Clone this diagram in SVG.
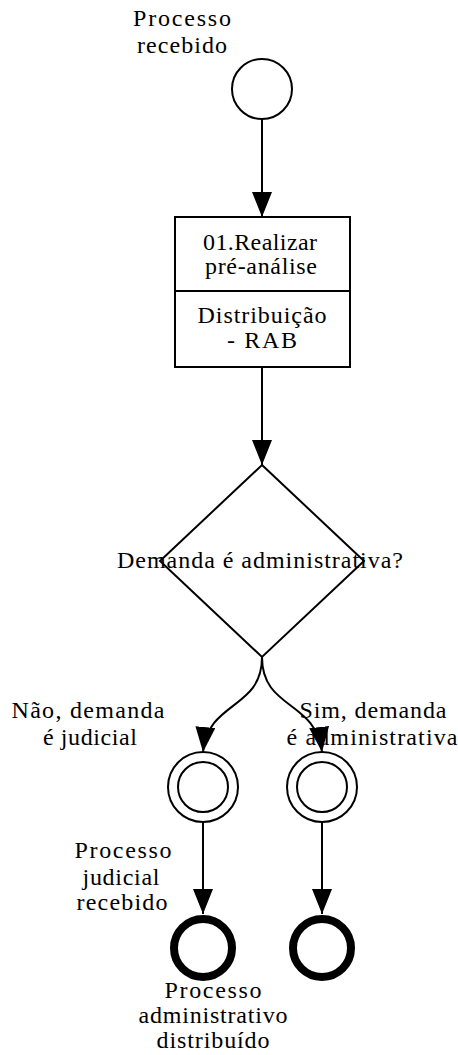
<svg xmlns="http://www.w3.org/2000/svg" width="458" height="1055" viewBox="0 0 458 1055">
<style>
.t{font-family:"Liberation Serif","Times New Roman",serif;font-size:24px;fill:#000;text-anchor:middle}
.s{fill:#fff;stroke:#000;stroke-width:2}
.e{fill:#fff;stroke:#000;stroke-width:8}
.c{fill:none;stroke:#000;stroke-width:2}
</style>
<defs>
<marker id="ah" markerUnits="userSpaceOnUse" viewBox="0 0 25 20" markerWidth="25" markerHeight="20" refX="25" refY="10" orient="auto">
<path d="M0,0 L25,10 L0,20 z" fill="#000"/>
</marker>
</defs>
<rect width="458" height="1055" fill="#fff"/>
<g id="connectors">
<path class="c" d="M262,119 L262,217" marker-end="url(#ah)"/>
<path class="c" d="M262,367 L262,465" marker-end="url(#ah)"/>
<path class="c" d="M262,657 C262,710 208,700 203,752" marker-end="url(#ah)"/>
<path class="c" d="M262,657 C262,710 316,700 322,752" marker-end="url(#ah)"/>
<path class="c" d="M203,822 L203,914" marker-end="url(#ah)"/>
<path class="c" d="M322,822 L322,914" marker-end="url(#ah)"/>
</g>
<g id="start">
<circle class="s" cx="262" cy="89" r="30"/>
<text class="t" x="182" y="26" textLength="98" lengthAdjust="spacing">Processo</text>
<text class="t" x="182" y="53" textLength="90" lengthAdjust="spacing">recebido</text>
</g>
<g id="task">
<rect class="s" x="175" y="217" width="175" height="150"/>
<line class="c" x1="175" y1="291" x2="350" y2="291"/>
<text class="t" x="260" y="250" textLength="114" lengthAdjust="spacing">01.Realizar</text>
<text class="t" x="261" y="274" textLength="112" lengthAdjust="spacing">pré-análise</text>
<text class="t" x="262" y="323" textLength="129" lengthAdjust="spacing">Distribuição</text>
<text class="t" x="262" y="348" textLength="70" lengthAdjust="spacing">- RAB</text>
</g>
<g id="gateway">
<path class="s" d="M262,465 L364,561 L262,657 L160,561 Z"/>
<text class="t" x="260" y="568" textLength="286" lengthAdjust="spacing">Demanda é administrativa?</text>
</g>
<g id="labelNao">
<text class="t" x="88" y="718" textLength="153" lengthAdjust="spacing">Não, demanda</text>
<text class="t" x="90" y="745" textLength="94" lengthAdjust="spacing">é judicial</text>
</g>
<g id="intermediateLeft">
<circle class="s" cx="203" cy="787" r="35"/>
<circle class="s" cx="203" cy="787" r="25"/>
</g>
<g id="intermediateRight">
<circle class="s" cx="322" cy="787" r="35"/>
<circle class="s" cx="322" cy="787" r="25"/>
</g>
<g id="labelSim">
<text class="t" x="373" y="718" textLength="147" lengthAdjust="spacing">Sim, demanda</text>
<text class="t" x="372" y="745" textLength="171" lengthAdjust="spacing">é administrativa</text>
</g>
<g id="endLeft">
<circle class="e" cx="203" cy="948" r="29"/>
<text class="t" x="123" y="858" textLength="97" lengthAdjust="spacing">Processo</text>
<text class="t" x="121" y="885" textLength="77" lengthAdjust="spacing">judicial</text>
<text class="t" x="122" y="910" textLength="91" lengthAdjust="spacing">recebido</text>
</g>
<g id="endRight">
<circle class="e" cx="322" cy="948" r="29"/>
<text class="t" x="213" y="998" textLength="97" lengthAdjust="spacing">Processo</text>
<text class="t" x="213" y="1023" textLength="149" lengthAdjust="spacing">administrativo</text>
<text class="t" x="213" y="1048" textLength="113" lengthAdjust="spacing">distribuído</text>
</g>
</svg>
